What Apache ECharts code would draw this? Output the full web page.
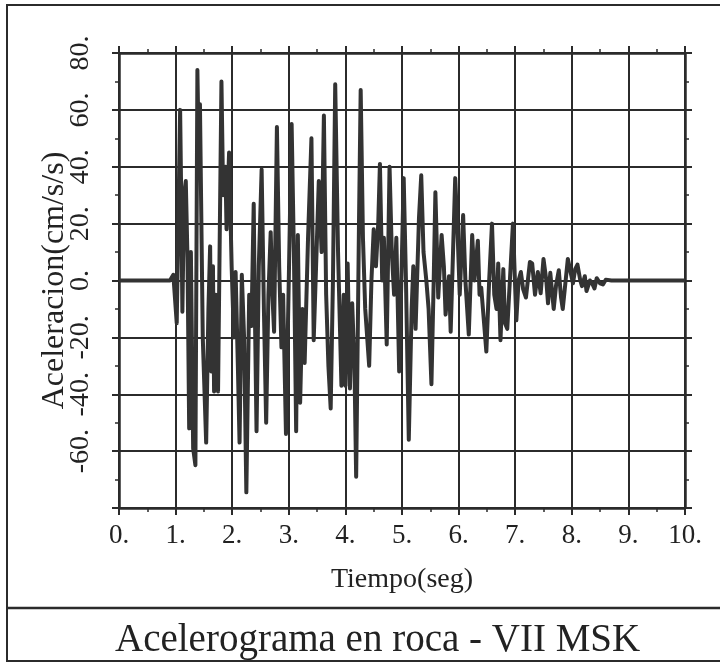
<!DOCTYPE html>
<html>
<head>
<meta charset="utf-8">
<script src="https://cdn.jsdelivr.net/npm/echarts@6/dist/echarts.min.js"></script>
<style>
html,body{margin:0;padding:0;background:#fff;}
#chart{width:720px;height:662px;}
</style>
</head>
<body>
<div id="chart"></div>
<script>
// Time (s) of each read extremum
var times = [0.00,0.90,0.96,1.02,1.08,1.10,1.12,1.15,1.18,1.21,1.24,1.27,1.31,1.35,1.385,1.41,1.43,1.48,1.54,1.58,1.61,1.63,1.66,1.68,1.71,1.75,1.81,1.84,1.88,1.90,1.945,1.99,2.03,2.06,2.10,2.13,2.17,2.21,2.25,2.30,2.34,2.38,2.40,2.43,2.47,2.52,2.56,2.60,2.64,2.68,2.71,2.74,2.79,2.83,2.87,2.90,2.95,3.05,3.09,3.13,3.16,3.20,3.24,3.28,3.34,3.40,3.44,3.49,3.53,3.58,3.62,3.66,3.70,3.74,3.78,3.82,3.87,3.93,3.97,4.00,4.04,4.08,4.12,4.16,4.19,4.24,4.27,4.31,4.35,4.42,4.46,4.50,4.54,4.58,4.61,4.65,4.68,4.73,4.78,4.82,4.86,4.90,4.95,5.00,5.03,5.07,5.12,5.17,5.20,5.24,5.30,5.34,5.38,5.43,5.47,5.52,5.56,5.59,5.64,5.70,5.74,5.77,5.83,5.86,5.94,5.98,6.02,6.08,6.12,6.18,6.24,6.28,6.34,6.37,6.40,6.45,6.49,6.54,6.59,6.63,6.67,6.70,6.74,6.79,6.82,6.86,6.96,7.02,7.06,7.10,7.14,7.19,7.26,7.30,7.35,7.40,7.45,7.50,7.55,7.58,7.62,7.68,7.72,7.77,7.81,7.84,7.93,8.02,8.06,8.10,8.15,8.18,8.23,8.26,8.32,8.36,8.40,8.44,8.50,8.55,8.60,8.70,10.00];
// Acceleration (cm/s/s) read at those times
var accel = [0,0,2,-15,60,28,-11,30,35,8,-52,10,-59,-65,74,44,62,-20,-57,-10,12,-32,5,-39,-5,-39,70,30,40,18,45,5,-20,3,-30,-57,2,-20,-74.5,-5,-16,27,-10,-53,5,39,-10,-50,-5,17,-5,-18,54,5,-23.5,-5,-54,55,10,-53,16,-43,-10,-29,15,50,-21,10,35,10,58,-5,-30,-45,0,69,10,-37,-5,-37,6,-38,-8,-30,-69,20,67,15,-10,-30,0,18,5,20,41,0,15,-22.5,40,10,-5,15,-32,10,36,0,-56,-10,5,-17,22,37,10,0,-10,-36.5,0,31,-6,16,5,-12,1.5,-18,36,18,-5,23,0,-19,16,0,14,-5,-2.5,-15,-25,0,20,-5,-10,6,-21,4,-15,-17,20,-14,0,3,-3,-6,6.5,6,-5,3,-4.5,7.6,0,-8,2.7,-10,-2,3.6,-6,-10,7.6,-1,4,5.6,0,-2,1.5,-3.7,0,-1,-2.8,0.8,-1,-1.4,0.3,0,0];
var xTicks = [0,1,2,3,4,5,6,7,8,9,10];
var yTicks = [-80,-60,-40,-20,0,20,40,60,80];
var titleText = 'Acelerograma en roca - VII MSK';
var xName = 'Tiempo(seg)';
var yName = 'Aceleracion(cm/s/s)';

var data = times.map(function(t,i){return [t, accel[i]];});
var ink = '#2b2b2b';
var font = 'Liberation Serif';

var chart = echarts.init(document.getElementById('chart'), null, {renderer:'canvas'});
function axisCommon(extra){
  var base = {
    type:'value',
    axisLine:{show:true, onZero:false, lineStyle:{color:ink, width:2.5}},
    axisTick:{show:true, inside:false, length:7, lineStyle:{color:ink, width:2}},
    minorTick:{show:true, splitNumber:2, length:4, lineStyle:{color:ink, width:1.5}},
    splitLine:{show:false},
    minorSplitLine:{show:false}
  };
  for (var k in extra) base[k] = extra[k];
  return base;
}
var option = {
  backgroundColor:'#fff',
  animation:false,
  title:{
    text:titleText, left:110, top:616,
    textStyle:{fontFamily:font, fontSize:39, fontWeight:'normal', color:'#222'}
  },
  grid:{left:119, top:53, width:566, height:455, containLabel:false},
  xAxis:[
    axisCommon({
      position:'bottom', min:xTicks[0], max:xTicks[xTicks.length-1], interval:1,
      name:xName, nameLocation:'middle', nameGap:58, nameMoveOverlap:false,
      nameTextStyle:{fontFamily:font, fontSize:28, color:'#222'},
      axisLabel:{show:true, margin:14, fontFamily:font, fontSize:27, color:'#222',
        formatter:function(v){return v + '.';}},
      splitLine:{show:true, lineStyle:{color:ink, width:2}}
    }),
    axisCommon({
      position:'top', min:xTicks[0], max:xTicks[xTicks.length-1], interval:1,
      axisLabel:{show:false}
    })
  ],
  yAxis:[
    axisCommon({
      position:'left', min:yTicks[0], max:yTicks[yTicks.length-1], interval:20,
      name:yName, nameLocation:'middle', nameGap:48, nameRotate:90, nameMoveOverlap:false,
      nameTextStyle:{fontFamily:font, fontSize:32, color:'#222'},
      axisLabel:{show:true, rotate:90, margin:24, fontFamily:font, fontSize:28, color:'#222',
        formatter:function(v){return v === yTicks[0] ? '' : v + '.';}},
      splitLine:{show:true, lineStyle:{color:ink, width:2}}
    }),
    axisCommon({
      position:'right', min:yTicks[0], max:yTicks[yTicks.length-1], interval:20,
      axisLabel:{show:false}
    })
  ],
  graphic:[
    {type:'rect', shape:{x:7, y:5, width:730, height:656}, style:{fill:null, stroke:ink, lineWidth:2}, silent:true, z:-1},
    {type:'line', shape:{x1:7, y1:608, x2:740, y2:608}, style:{stroke:ink, lineWidth:2.5}, silent:true}
  ],
  series:[{
    type:'line', data:data, xAxisIndex:0, yAxisIndex:0,
    showSymbol:false, symbol:'none', smooth:false,
    lineStyle:{color:'#333', width:4, join:'round'},
    z:5
  }]
};
chart.setOption(option);
</script>
</body>
</html>
